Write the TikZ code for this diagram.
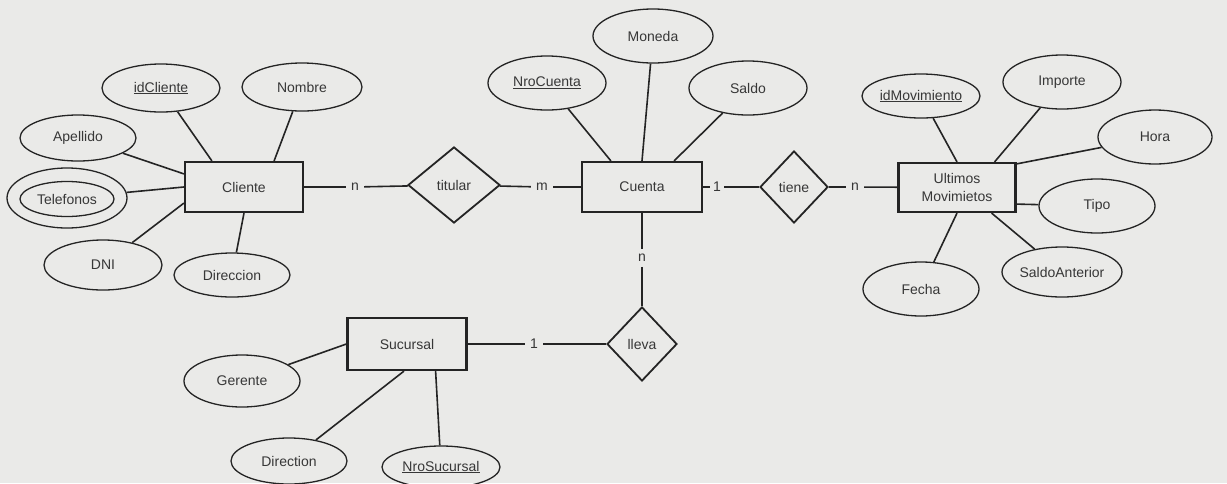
\documentclass[tikz,border=0pt]{standalone}
\usepackage{fontspec}
\setsansfont{Liberation Sans}
\usetikzlibrary{shapes.geometric}
\definecolor{paper}{RGB}{234,234,232}
\definecolor{ink}{RGB}{36,36,36}
\definecolor{txt}{RGB}{55,55,55}
\begin{document}
\begin{tikzpicture}[x=1pt,y=-1pt,
  every node/.style={font=\sffamily\fontsize{14}{18}\selectfont, text=txt},
  attr/.style={ellipse, draw=ink, line width=1.3pt, inner sep=0pt},
  ent/.style={rectangle, draw=ink, line width=2.2pt, inner sep=0pt, align=center},
  rel/.style={diamond, draw=ink, line width=1.8pt, inner sep=0pt},
  card/.style={inner xsep=5pt, inner ysep=2pt},
  conn/.style={draw=ink, line width=1.6pt}]
\fill[paper] (0,0) rectangle (1227,483);
\useasboundingbox (0,0) rectangle (1227,483);

% ---------- entities ----------
\node[ent, minimum width=118, minimum height=50] (cliente) at (244,187) {Cliente};
\node[ent, minimum width=120, minimum height=50] (cuenta) at (642,187) {Cuenta};
\node[ent, minimum width=117, minimum height=49] (ultimos) at (957,187.5) {Ultimos\\Movimietos};
\node[ent, minimum width=119, minimum height=52] (sucursal) at (407,344) {Sucursal};

% ---------- relationships ----------
\node[rel, minimum width=92, minimum height=76] (titular) at (454,185) {titular};
\node[rel, minimum width=68, minimum height=72] (tiene) at (794,187) {tiene};
\node[rel, minimum width=70, minimum height=74] (lleva) at (642,344) {lleva};

% ---------- cardinalities ----------
\node[card] (c1) at (355,187) {n};
\node[card] (c2) at (542,187) {m};
\node[card, inner xsep=3pt] (c3) at (717,187) {1};
\node[card] (c4) at (855,187) {n};
\node[card, inner ysep=5pt] (c5) at (642,258) {n};
\node[card] (c6) at (534,344) {1};

% ---------- attributes: Cliente ----------
\node[attr, minimum width=118, minimum height=48] (idcliente) at (161,88) {\underline{idCliente}};
\node[attr, minimum width=120, minimum height=48] (nombre) at (302,87) {Nombre};
\node[attr, minimum width=116, minimum height=46] (apellido) at (78,138) {Apellido};
\node[attr, minimum width=120, minimum height=60] (telout) at (67,198) {};
\node[attr, minimum width=94, minimum height=35] (telin) at (67,199) {Telefonos};
\node[attr, minimum width=118, minimum height=50] (dni) at (103,265) {DNI};
\node[attr, minimum width=116, minimum height=44] (dircli) at (232,275) {Direccion};

% ---------- attributes: Cuenta ----------
\node[attr, minimum width=118, minimum height=54] (nrocuenta) at (547,83) {\underline{NroCuenta}};
\node[attr, minimum width=120, minimum height=54] (moneda) at (653,36) {Moneda};
\node[attr, minimum width=118, minimum height=54] (saldo) at (748,88) {Saldo};

% ---------- attributes: Ultimos Movimietos ----------
\node[attr, minimum width=118, minimum height=44] (idmov) at (921,96) {\underline{idMovimiento}};
\node[attr, minimum width=118, minimum height=54] (importe) at (1062,82) {Importe};
\node[attr, minimum width=114, minimum height=54] (hora) at (1155,137) {Hora};
\node[attr, minimum width=116, minimum height=54] (tipo) at (1097,206) {Tipo};
\node[attr, minimum width=114, minimum height=50] (saldoant) at (1062,272) {SaldoAnterior};
\node[attr, minimum width=116, minimum height=54] (fecha) at (921,289) {Fecha};

% ---------- attributes: Sucursal ----------
\node[attr, minimum width=116, minimum height=52] (gerente) at (242,381) {Gerente};
\node[attr, minimum width=116, minimum height=46] (dirsuc) at (289,461) {Direction};
\node[attr, minimum width=118, minimum height=42] (nrosuc) at (441,467) {\underline{NroSucursal}};

% ---------- relationship connectors ----------
\draw[conn] (cliente) -- (c1) -- (titular);
\draw[conn] (titular) -- (c2) -- (cuenta);
\draw[conn] (cuenta) -- (c3) -- (tiene);
\draw[conn] (tiene) -- (c4) -- (ultimos);
\draw[conn] (cuenta) -- (c5) -- (lleva);
\draw[conn] (sucursal) -- (c6) -- (lleva);

% ---------- attribute connectors ----------
\draw[conn] (idcliente) -- ([xshift=28pt]cliente.north west);
\draw[conn] (nombre) -- ([xshift=-30pt]cliente.north east);
\draw[conn] (apellido) -- ([yshift=-13pt]cliente.north west);
\draw[conn] (telout) -- (cliente.west);
\draw[conn] (dni) -- ([yshift=10pt]cliente.south west);
\draw[conn] (dircli) -- (cliente.south);

\draw[conn] (nrocuenta) -- ([xshift=30pt]cuenta.north west);
\draw[conn] (moneda) -- (cuenta.north);
\draw[conn] (saldo) -- ([xshift=-29pt]cuenta.north east);

\draw[conn] (idmov) -- (ultimos.north);
\draw[conn] (importe) -- ([xshift=-22pt]ultimos.north east);
\draw[conn] (hora) -- ([yshift=-2pt]ultimos.north east);
\draw[conn] (tipo) -- ([yshift=9pt]ultimos.south east);
\draw[conn] (saldoant) -- ([xshift=-25pt]ultimos.south east);
\draw[conn] (fecha) -- (ultimos.south);

\draw[conn] (gerente) -- (sucursal.west);
\draw[conn] (dirsuc) -- ([xshift=-3pt]sucursal.south);
\draw[conn] (nrosuc) -- ([xshift=-32pt]sucursal.south east);
\end{tikzpicture}
\end{document}
